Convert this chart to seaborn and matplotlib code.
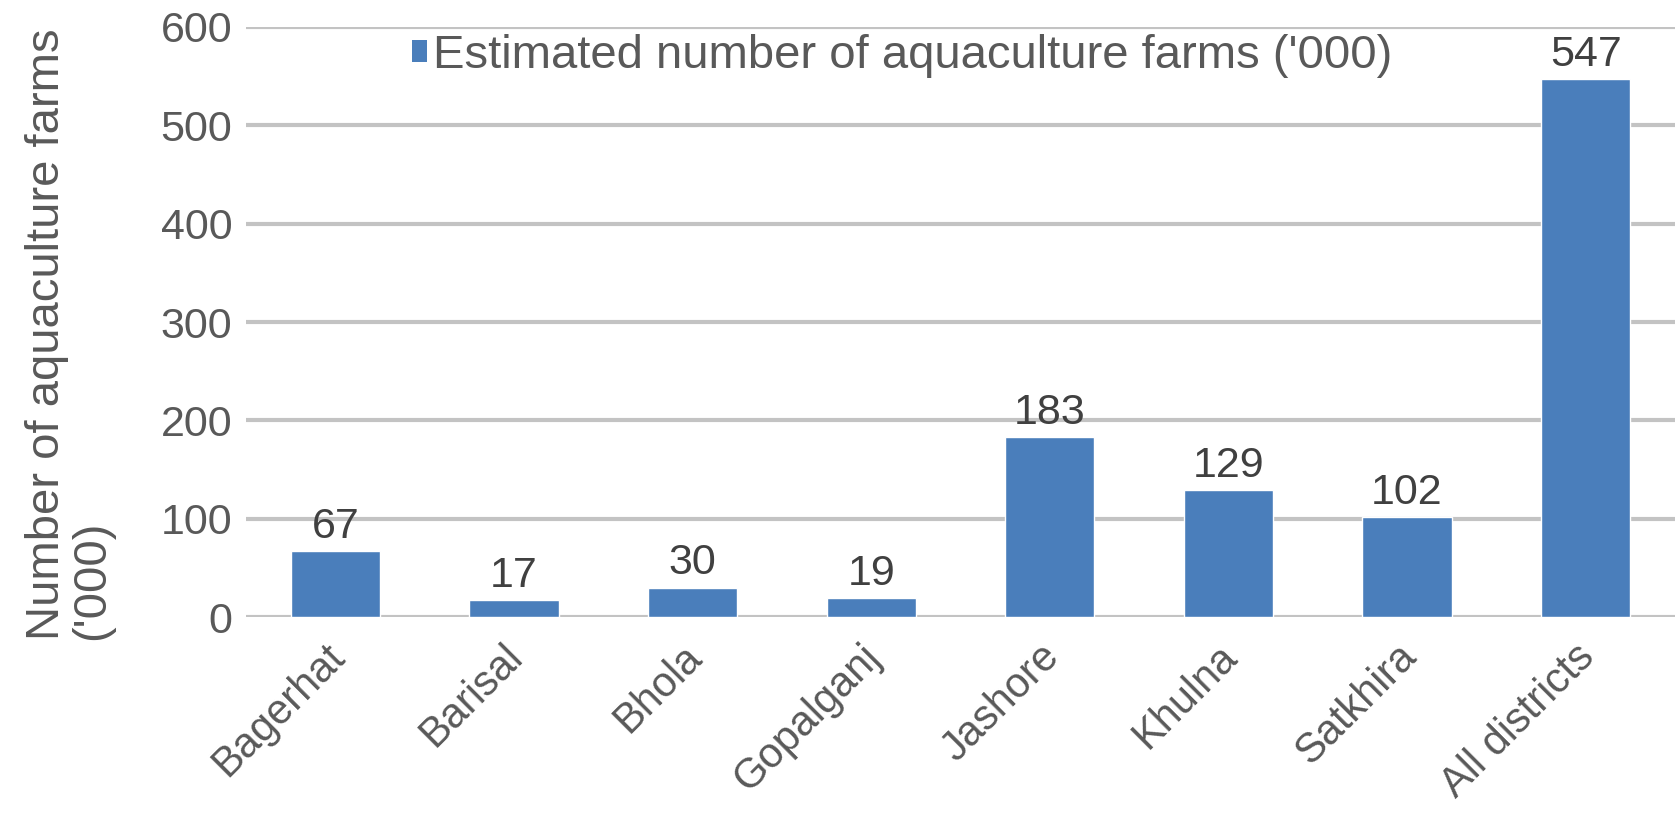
import matplotlib

matplotlib.use("Agg")
import matplotlib.pyplot as plt
import seaborn as sns
from matplotlib.patches import Patch
from matplotlib.transforms import ScaledTranslation

# Chart values
districts = [
    "Bagerhat",
    "Barisal",
    "Bhola",
    "Gopalganj",
    "Jashore",
    "Khulna",
    "Satkhira",
    "All districts",
]
farms = [67, 17, 30, 19, 183, 129, 102, 547]
y_ticks = [0, 100, 200, 300, 400, 500, 600]
series_name = "Estimated number of aquaculture farms ('000)"
y_title = "Number of aquaculture farms\n('000)"

BAR_BLUE = "#4A7EBB"
TEXT_GREY = "#595959"
GRID_GREY = "#C3C3C3"

sns.set_style("white")
plt.rcParams["font.family"] = ["Liberation Sans", "DejaVu Sans"]

fig = plt.figure(figsize=(16.77, 8.13), dpi=100)
ax = fig.add_axes([0.1467, 0.241, 0.8521, 0.7258])

sns.barplot(x=districts, y=farms, color=BAR_BLUE, width=0.5, saturation=1, ax=ax, zorder=3)

# Value labels on top of bars
ax.bar_label(ax.containers[0], labels=[str(v) for v in farms], fontsize=31,
             color="#404040", padding=3)

ax.set_ylim(0, 600)
ax.set_xlim(-0.5, len(districts) - 0.5)
ax.set_yticks(y_ticks)
ax.yaxis.grid(True, color=GRID_GREY, linewidth=3, zorder=0)
ax.set_axisbelow(True)
for side in ["top", "right", "left", "bottom"]:
    ax.spines[side].set_visible(False)

ax.tick_params(axis="y", length=0, pad=10, labelsize=31, labelcolor=TEXT_GREY)
ax.tick_params(axis="x", length=0, pad=14, labelsize=30, labelcolor=TEXT_GREY)
shift = ScaledTranslation(-0.11, 0, fig.dpi_scale_trans)
for lbl in ax.get_xticklabels():
    lbl.set_rotation(45)
    lbl.set_ha("right")
    lbl.set_rotation_mode("anchor")
    lbl.set_transform(lbl.get_transform() + shift)

ax.set_xlabel("")
ax.set_ylabel(y_title, fontsize=34, color=TEXT_GREY, linespacing=1.05,
              multialignment="left")
ax.yaxis.set_label_coords(-0.092, 0.48)

handle = Patch(facecolor=BAR_BLUE, edgecolor="none")
fig.legend(
    [handle],
    [series_name],
    loc="center",
    bbox_to_anchor=(0.538, 0.931),
    frameon=False,
    fontsize=34,
    labelcolor=TEXT_GREY,
    handlelength=0.32,
    handleheight=0.32,
    handletextpad=0.12,
    borderpad=0,
)

fig.savefig("out.png", dpi=100)
plt.close(fig)
